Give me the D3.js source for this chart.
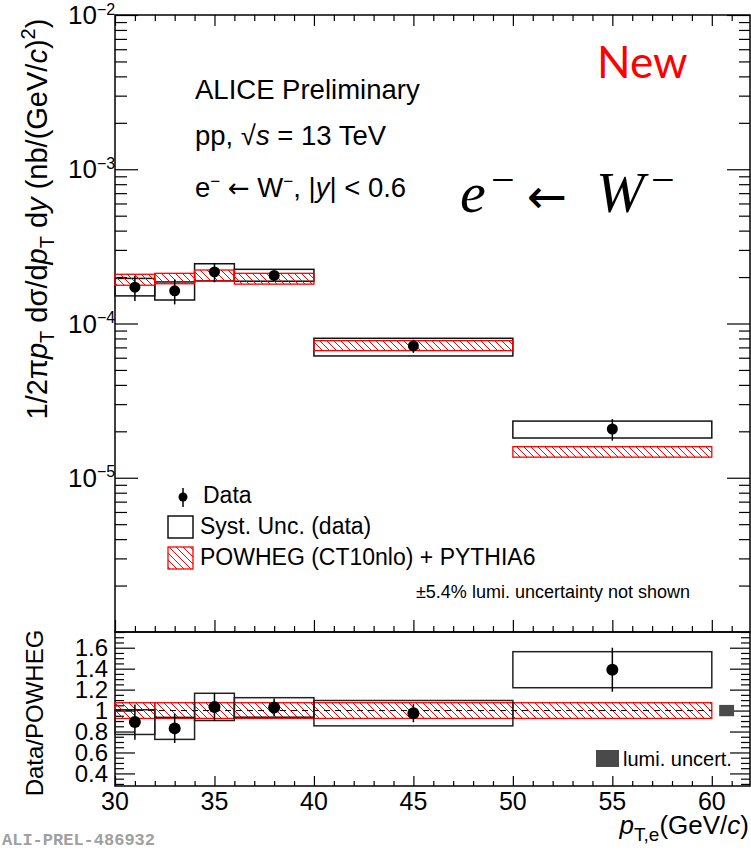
<!DOCTYPE html>
<html>
<head>
<meta charset="utf-8">
<script src="https://cdn.jsdelivr.net/npm/d3@7"></script>
<style>
  body { margin: 0; background: #fff; }
  svg { display: block; font-family: "Liberation Sans", Arial, sans-serif; }
</style>
</head>
<body>
<svg id="chart" width="751" height="850"></svg>
<script>
// pT bins of the W- -> e- measurement (GeV/c)
const binLo = [30, 32, 34, 36, 40, 50];
const binHi = [32, 34, 36, 40, 50, 60];
const binCenter = [31, 33, 35, 38, 45, 55];

// measured cross section (nb/(GeV/c)^2) with statistical errors
const dataVal = [1.72e-4, 1.63e-4, 2.16e-4, 2.05e-4, 7.15e-5, 2.07e-5];
const statErr = [0.32e-4, 0.30e-4, 0.31e-4, 0.15e-4, 0.70e-5, 0.33e-5];
// systematic uncertainty band of the data
const systLo = [1.51e-4, 1.42e-4, 1.89e-4, 1.88e-4, 6.16e-5, 1.81e-5];
const systHi = [1.96e-4, 1.86e-4, 2.44e-4, 2.245e-4, 8.02e-5, 2.33e-5];
// POWHEG (CT10nlo) + PYTHIA6 prediction band
const powhegLo = [1.77e-4, 1.81e-4, 1.886e-4, 1.80e-4, 6.67e-5, 1.36e-5];
const powhegHi = [2.085e-4, 2.115e-4, 2.222e-4, 2.115e-4, 7.74e-5, 1.59e-5];

// Data / POWHEG ratio
const ratioVal = [0.89, 0.83, 1.035, 1.03, 0.975, 1.39];
const ratioStat = [0.168, 0.14, 0.134, 0.085, 0.086, 0.21];
const ratioSyst = [0.118, 0.105, 0.13, 0.093, 0.121, 0.172];
const ratioBandLo = [0.925, 0.925, 0.925, 0.925, 0.925, 0.925];
const ratioBandHi = [1.075, 1.075, 1.075, 1.075, 1.075, 1.075];
const lumiUnc = 0.054;
const lumiBin = [60.37, 61.12];

// axis ticks
const xTicks = [30, 35, 40, 45, 50, 55, 60];
const yDecades = [1e-5, 1e-4, 1e-3, 1e-2];
const yDecadeExp = ["\u22125", "\u22124", "\u22123", "\u22122"];
const ratioTicks = [0.4, 0.6, 0.8, 1.0, 1.2, 1.4, 1.6];
const ratioTickLabels = ["0.4", "0.6", "0.8", "1", "1.2", "1.4", "1.6"];

const svg = d3.select("#chart");

// ---- geometry
const L = 115, R = 750, T = 15, MID = 632, B = 786;
const x = d3.scaleLinear().domain([30, 61.92]).range([L, R]);
const yTop = d3.scaleLog().domain([1e-6, 1e-2]).range([MID, T]);
const yRat = d3.scaleLinear().domain([0.28, 1.75]).range([B, MID]);

// hatch pattern for the model band
const defs = svg.append("defs");
const pat = defs.append("pattern")
  .attr("id", "hatch").attr("patternUnits", "userSpaceOnUse")
  .attr("width", 7).attr("height", 7);
pat.append("path")
  .attr("d", "M0,0 L7,7 M-1,6 L1,8 M6,-1 L8,1")
  .attr("stroke", "#ff0000").attr("stroke-width", 1).attr("fill", "none");

// minor tick helpers
const logMinors = [];
for (let e = -6; e < -2; e++) for (let k = 2; k <= 9; k++) logMinors.push(k * Math.pow(10, e));
const xMinors = d3.range(30, 62, 1).filter(v => v % 5 !== 0);
const ratioMinors = d3.range(0.30, 1.751, 0.05).map(v => +v.toFixed(2))
  .filter(v => !ratioTicks.some(t => Math.abs(t - v) < 1e-6));

function tickAxis(gen, scale, values, size, tx, ty) {
  const g = svg.append("g").attr("transform", `translate(${tx},${ty})`)
    .call(gen(scale).tickValues(values).tickSize(size).tickFormat(""));
  g.select(".domain").remove();
  g.selectAll("line").attr("stroke", "#000").attr("stroke-width", 1.2);
  return g;
}

// ---- top panel axes
tickAxis(d3.axisLeft, yTop, yDecades, -23, L, 0);
tickAxis(d3.axisLeft, yTop, logMinors, -12, L, 0);
tickAxis(d3.axisRight, yTop, yDecades, -23, R, 0);
tickAxis(d3.axisRight, yTop, logMinors, -11, R, 0);
tickAxis(d3.axisTop, x, xTicks, -11, 0, T);
tickAxis(d3.axisTop, x, xMinors, -6, 0, T);
tickAxis(d3.axisBottom, x, xTicks, -12, 0, MID);
tickAxis(d3.axisBottom, x, xMinors, -6, 0, MID);

// ---- ratio panel axes
tickAxis(d3.axisLeft, yRat, ratioTicks, -20, L, 0);
tickAxis(d3.axisLeft, yRat, ratioMinors, -9, L, 0);
tickAxis(d3.axisRight, yRat, ratioTicks, -20, R, 0);
tickAxis(d3.axisRight, yRat, ratioMinors, -9, R, 0);
tickAxis(d3.axisBottom, x, xTicks, -10, 0, B);
tickAxis(d3.axisBottom, x, xMinors, -5, 0, B);

// frames
svg.append("rect").attr("x", L).attr("y", T).attr("width", R - L).attr("height", MID - T)
  .attr("fill", "none").attr("stroke", "#000").attr("stroke-width", 1.5);
svg.append("rect").attr("x", L).attr("y", MID).attr("width", R - L).attr("height", B - MID)
  .attr("fill", "none").attr("stroke", "#000").attr("stroke-width", 1.5);

// ---- top panel tick labels
const yLab = svg.append("g").attr("font-size", 26).attr("fill", "#000");
yDecades.forEach((d, i) => {
  yLab.append("text").attr("x", 97).attr("y", yTop(d) + 9).attr("text-anchor", "end").text("10");
  yLab.append("text").attr("x", 97).attr("y", yTop(d) - 0.5).attr("font-size", 16).text(yDecadeExp[i]);
});

// ---- ratio tick labels
const rLab = svg.append("g").attr("font-size", 24).attr("fill", "#000");
ratioTicks.forEach((t, i) => {
  rLab.append("text").attr("x", 108).attr("y", yRat(t) + 8.5).attr("text-anchor", "end").text(ratioTickLabels[i]);
});

// ---- x tick labels
const xLab = svg.append("g").attr("font-size", 25).attr("fill", "#000");
xTicks.forEach(t => {
  xLab.append("text").attr("x", x(t)).attr("y", 810).attr("text-anchor", "middle").text(t);
});

// ---- top panel marks
const topG = svg.append("g");
binLo.forEach((lo, i) => {
  topG.append("rect")
    .attr("x", x(lo)).attr("width", x(binHi[i]) - x(lo))
    .attr("y", yTop(systHi[i])).attr("height", yTop(systLo[i]) - yTop(systHi[i]))
    .attr("fill", "none").attr("stroke", "#111").attr("stroke-width", 1.5);
});
binLo.forEach((lo, i) => {
  topG.append("rect")
    .attr("x", x(lo)).attr("width", x(binHi[i]) - x(lo))
    .attr("y", yTop(powhegHi[i])).attr("height", yTop(powhegLo[i]) - yTop(powhegHi[i]))
    .attr("fill", "url(#hatch)").attr("stroke", "#ff0000").attr("stroke-width", 1.3);
});
binCenter.forEach((c, i) => {
  topG.append("line")
    .attr("x1", x(c)).attr("x2", x(c))
    .attr("y1", yTop(dataVal[i] + statErr[i])).attr("y2", yTop(dataVal[i] - statErr[i]))
    .attr("stroke", "#000").attr("stroke-width", 1.5);
  topG.append("circle").attr("cx", x(c)).attr("cy", yTop(dataVal[i])).attr("r", 5.5).attr("fill", "#000");
});

// ---- ratio panel marks
const ratG = svg.append("g");
binLo.forEach((lo, i) => {
  ratG.append("rect")
    .attr("x", x(lo)).attr("width", x(binHi[i]) - x(lo))
    .attr("y", yRat(ratioBandHi[i])).attr("height", yRat(ratioBandLo[i]) - yRat(ratioBandHi[i]))
    .attr("fill", "url(#hatch)").attr("stroke", "#ff0000").attr("stroke-width", 1.3);
});
ratG.append("line")
  .attr("x1", x(30)).attr("x2", x(60)).attr("y1", yRat(1)).attr("y2", yRat(1))
  .attr("stroke", "#000").attr("stroke-width", 1).attr("stroke-dasharray", "6,5");
binLo.forEach((lo, i) => {
  ratG.append("rect")
    .attr("x", x(lo)).attr("width", x(binHi[i]) - x(lo))
    .attr("y", yRat(ratioVal[i] + ratioSyst[i]))
    .attr("height", yRat(ratioVal[i] - ratioSyst[i]) - yRat(ratioVal[i] + ratioSyst[i]))
    .attr("fill", "none").attr("stroke", "#222").attr("stroke-width", 1.5);
});
binCenter.forEach((c, i) => {
  ratG.append("line")
    .attr("x1", x(c)).attr("x2", x(c))
    .attr("y1", yRat(ratioVal[i] + ratioStat[i])).attr("y2", yRat(ratioVal[i] - ratioStat[i]))
    .attr("stroke", "#000").attr("stroke-width", 1.5);
  ratG.append("circle").attr("cx", x(c)).attr("cy", yRat(ratioVal[i])).attr("r", 6).attr("fill", "#000");
});
// luminosity uncertainty box
ratG.append("rect")
  .attr("x", x(lumiBin[0])).attr("width", x(lumiBin[1]) - x(lumiBin[0]))
  .attr("y", yRat(1 + lumiUnc)).attr("height", yRat(1 - lumiUnc) - yRat(1 + lumiUnc))
  .attr("fill", "#4a4a4a");
ratG.append("rect").attr("x", 596).attr("y", 750).attr("width", 23).attr("height", 17).attr("fill", "#4a4a4a");
ratG.append("text").attr("x", 623).attr("y", 766).attr("font-size", 20).text("lumi. uncert.");

// ---- legend
const leg = svg.append("g").attr("font-size", 23);
leg.append("line").attr("x1", 183).attr("x2", 183).attr("y1", 488).attr("y2", 507)
  .attr("stroke", "#000").attr("stroke-width", 1.5);
leg.append("circle").attr("cx", 183).attr("cy", 497).attr("r", 4.5).attr("fill", "#000");
leg.append("text").attr("x", 203).attr("y", 503).text("Data");
leg.append("rect").attr("x", 168).attr("y", 516).attr("width", 25).attr("height", 22)
  .attr("fill", "none").attr("stroke", "#111").attr("stroke-width", 1.5);
leg.append("text").attr("x", 200).attr("y", 534).text("Syst. Unc. (data)");
leg.append("rect").attr("x", 168).attr("y", 547).attr("width", 25).attr("height", 22)
  .attr("fill", "url(#hatch)").attr("stroke", "#ff0000").attr("stroke-width", 1.3);
leg.append("text").attr("x", 200).attr("y", 565).text("POWHEG (CT10nlo) + PYTHIA6");
svg.append("text").attr("x", 690).attr("y", 598).attr("text-anchor", "end")
  .attr("font-size", 18).text("\u00b15.4% lumi. uncertainty not shown");

// ---- header text
const hdr = svg.append("g").attr("font-size", 27.5);
hdr.append("text").attr("x", 195).attr("y", 99).text("ALICE Preliminary");
const l2 = hdr.append("text").attr("x", 195).attr("y", 145);
l2.append("tspan").text("pp, \u221a");
l2.append("tspan").attr("font-style", "italic").text("s");
l2.append("tspan").text(" = 13 TeV");
const l3 = hdr.append("text").attr("x", 195).attr("y", 197);
l3.append("tspan").text("e");
l3.append("tspan").attr("font-size", 17).attr("dy", -10).text("\u2212");
l3.append("tspan").attr("dy", 10).text(" ");
l3.append("tspan").attr("font-family", "'DejaVu Sans', sans-serif").attr("font-size", 26).text("\u2190");
l3.append("tspan").text(" W");
l3.append("tspan").attr("font-size", 17).attr("dy", -10).text("\u2212");
l3.append("tspan").attr("dy", 10).text(", |");
l3.append("tspan").attr("font-style", "italic").text("y");
l3.append("tspan").text("| < 0.6");

svg.append("text").attr("x", 597).attr("y", 78).attr("font-family", "Lato, 'Open Sans', sans-serif")
  .attr("font-size", 44).attr("fill", "#ff0000").text("New");

// large e- <- W- formula
const fm = svg.append("g").attr("font-family", "'Liberation Serif', 'DejaVu Serif', serif").attr("fill", "#000");
fm.append("text").attr("x", 460).attr("y", 212).attr("font-size", 58).attr("font-style", "italic").text("e");
fm.append("text").attr("x", 491).attr("y", 194).attr("font-size", 42).text("\u2212");
fm.append("text").attr("x", 527).attr("y", 213).attr("font-family", "'DejaVu Sans', sans-serif")
  .attr("font-size", 48).text("\u2190");
fm.append("text").attr("x", 596).attr("y", 212).attr("font-size", 58).attr("font-style", "italic").text("W");
fm.append("text").attr("x", 651).attr("y", 194).attr("font-size", 42).text("\u2212");

// ---- axis titles
const yt = svg.append("text").attr("transform", "translate(47,219) rotate(-90)")
  .attr("text-anchor", "middle").attr("font-size", 29);
yt.append("tspan").text("1/2\u03c0");
yt.append("tspan").attr("font-style", "italic").text("p");
yt.append("tspan").attr("font-size", 20).attr("dy", 7).text("T");
yt.append("tspan").attr("dy", -7).text(" d\u03c3/d");
yt.append("tspan").attr("font-style", "italic").text("p");
yt.append("tspan").attr("font-size", 20).attr("dy", 7).text("T");
yt.append("tspan").attr("dy", -7).text(" d");
yt.append("tspan").attr("font-style", "italic").text("y");
yt.append("tspan").text(" (nb/(GeV/");
yt.append("tspan").attr("font-style", "italic").text("c");
yt.append("tspan").text(")");
yt.append("tspan").attr("font-size", 20).attr("dy", -12).text("2");
yt.append("tspan").attr("dy", 12).text(")");

svg.append("text").attr("transform", "translate(43,713) rotate(-90)")
  .attr("text-anchor", "middle").attr("font-size", 24).text("Data/POWHEG");

const xt = svg.append("text").attr("x", 749).attr("y", 834).attr("text-anchor", "end").attr("font-size", 26);
xt.append("tspan").attr("font-style", "italic").text("p");
xt.append("tspan").attr("font-size", 19).attr("dy", 7).text("T,e");
xt.append("tspan").attr("dy", -7).text("(GeV/");
xt.append("tspan").attr("font-style", "italic").text("c");
xt.append("tspan").text(")");

svg.append("text").attr("x", 2).attr("y", 845)
  .attr("font-family", "'Liberation Mono', 'DejaVu Sans Mono', monospace")
  .attr("font-weight", "bold").attr("font-size", 17).attr("fill", "#a0a0a0")
  .text("ALI-PREL-486932");
</script>
</body>
</html>
